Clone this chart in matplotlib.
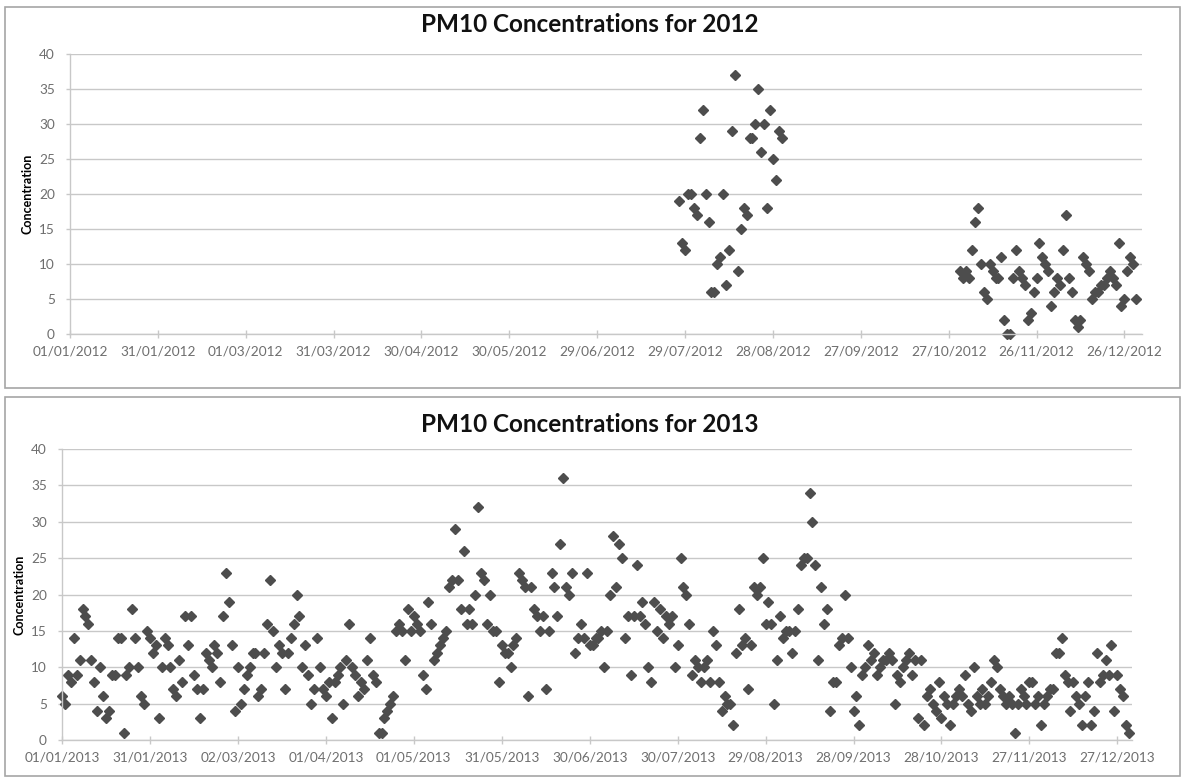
import matplotlib
matplotlib.use("Agg")
import matplotlib.pyplot as plt
import matplotlib.dates as mdates
from matplotlib.patches import Rectangle
import pandas as pd

# PM10 readings, one per day
pm10_2012_summer_start = "2012-07-27"
pm10_2012_summer = [
    19, 13, 12, 20, 20, 18, 17, 28, 32, 20,
    16, 6, 6, 10, 11, 20, 7, 12, 29, 37,
    9, 15, 18, 17, 28, 28, 30, 35, 26, 30,
    18, 32, 25, 22, 29, 28,
]

pm10_2012_autumn_start = "2012-10-31"
pm10_2012_autumn = [
    9, 8, 9, 8, 12, 16, 18, 10, 6, 5,
    10, 9, 8, 8, 11, 2, 0, 0, 8, 12,
    9, 8, 7, 2, 3, 6, 8, 13, 11, 10,
    9, 4, 6, 8, 7, 12, 17, 8, 6, 2,
    1, 2, 11, 10, 9, 5, 6, 6, 7, 7,
    8, 9, 8, 7, 13, 4, 5, 9, 11, 10,
    5,
]

pm10_2013_start = "2013-01-01"
pm10_2013 = [
    6, 5, 9, 8, 14, 9, 11, 18, 17, 16,
    11, 8, 4, 10, 6, 3, 4, 9, 9, 14,
    14, 1, 9, 10, 18, 14, 10, 6, 5, 15,
    14, 12, 13, 3, 10, 14, 13, 10, 7, 6,
    11, 8, 17, 13, 17, 9, 7, 3, 7, 12,
    11, 10, 13, 12, 8, 17, 23, 19, 13, 4,
    10, 5, 7, 9, 10, 12, 12, 6, 7, 12,
    16, 22, 15, 10, 13, 12, 7, 12, 14, 16,
    20, 17, 10, 13, 9, 5, 7, 14, 10, 7,
    6, 8, 3, 8, 9, 10, 5, 11, 16, 10,
    9, 6, 8, 7, 11, 14, 9, 8, 1, 1,
    3, 4, 5, 6, 15, 16, 15, 11, 18, 15,
    17, 16, 15, 9, 7, 19, 16, 11, 12, 13,
    14, 15, 21, 22, 29, 22, 18, 26, 16, 18,
    16, 20, 32, 23, 22, 16, 20, 15, 15, 8,
    13, 12, 12, 10, 13, 14, 23, 22, 21, 6,
    21, 18, 17, 15, 17, 7, 15, 23, 21, 17,
    27, 36, 21, 20, 23, 12, 14, 16, 14, 23,
    13, 13, 14, 14, 15, 10, 15, 20, 28, 21,
    27, 25, 14, 17, 9, 17, 24, 17, 19, 16,
    10, 8, 19, 15, 18, 14, 17, 16, 17, 10,
    13, 25, 21, 20, 16, 9, 11, 10, 8, 10,
    11, 8, 15, 13, 8, 4, 6, 5, 5, 2,
    12, 18, 13, 14, 7, 13, 21, 20, 21, 25,
    16, 19, 16, 5, 11, 17, 14, 15, 15, 12,
    15, 18, 24, 25, 25, 34, 30, 24, 11, 21,
    16, 18, 4, 8, 8, 13, 14, 20, 14, 10,
    4, 6, 2, 9, 10, 13, 11, 12, 9, 10,
    11, 11, 12, 11, 5, 9, 8, 10, 11, 12,
    9, 11, 3, 11, 2, 6, 7, 5, 4, 8,
    3, 6, 5, 2, 5, 6, 7, 6, 9, 5,
    4, 10, 6, 5, 7, 5, 6, 8, 11, 10,
    7, 6, 5, 6, 5, 1, 5, 7, 6, 5,
    8, 8, 5, 6, 2, 5, 6, 7, 7, 12,
    12, 14, 9, 8, 4, 8, 6, 5, 2, 6,
    8, 2, 4, 12, 8, 9, 11, 9, 13, 4,
    9, 7, 6, 2, 1,
]

y_ticks = [0, 5, 10, 15, 20, 25, 30, 35, 40]

FONT = ["Lato", "DejaVu Sans"]
MARKER_COLOR = "#4d4d4d"
GRID_COLOR = "#c8c8c8"
TICK_COLOR = "#6e6e6e"


def daily_series(start: str, values: list[int]) -> pd.Series:
    """Turns a run of daily values into a date-indexed series."""
    return pd.Series(values, index=pd.date_range(start, periods=len(values), freq="D"))


def style_axis(ax, year: int, title: str, title_y: float) -> None:
    """Excel-like look: light grid, grey ticks, 30-day date ticks."""
    start = pd.Timestamp(f"{year}-01-01")
    end = pd.Timestamp(f"{year + 1}-01-01")
    ax.set_xlim(start, end)
    ax.set_ylim(0, 40)
    ax.set_yticks(y_ticks)
    ax.set_xticks(pd.date_range(start, periods=13, freq="30D"))
    ax.xaxis.set_major_formatter(mdates.DateFormatter("%d/%m/%Y"))

    ax.grid(axis="y", color=GRID_COLOR, linewidth=1.0)
    ax.set_axisbelow(True)
    for side in ("top", "right"):
        ax.spines[side].set_visible(False)
    for side in ("left", "bottom"):
        ax.spines[side].set_color(GRID_COLOR)
        ax.spines[side].set_linewidth(1.0)

    ax.tick_params(axis="x", direction="inout", length=6, width=1,
                   color=GRID_COLOR, labelcolor=TICK_COLOR, labelsize=9.8, pad=5)
    ax.tick_params(axis="y", direction="out", length=3, width=1,
                   color=GRID_COLOR, labelcolor=TICK_COLOR, labelsize=9.8, pad=8)
    for lab in ax.get_xticklabels() + ax.get_yticklabels():
        lab.set_family(FONT)

    ax.set_ylabel("Concentration", family=FONT, fontsize=9,
                  fontweight="bold", labelpad=4)
    ax.figure.text(0.4975, title_y, title, family=FONT, fontsize=17.5,
                   fontweight="bold", ha="center", va="center", color="#111111")


def main() -> None:
    plt.rcParams["font.family"] = FONT
    fig = plt.figure(figsize=(11.86, 7.79), dpi=100)
    W, H = 1186, 779

    # chart-area borders of the two stacked Excel charts
    for x0, y0, x1, y1 in [(5, 7, 1180, 388), (5, 397, 1180, 776)]:
        fig.patches.append(Rectangle((x0 / W, 1 - y1 / H), (x1 - x0) / W, (y1 - y0) / H,
                                     transform=fig.transFigure, fill=False,
                                     edgecolor="#a6a6a6", linewidth=1.2))

    ax1 = fig.add_axes([70 / W, 1 - 334 / H, 1072 / W, 280 / H])
    ax2 = fig.add_axes([62 / W, 1 - 740 / H, 1070 / W, 291 / H])

    summer = daily_series(pm10_2012_summer_start, pm10_2012_summer)
    autumn = daily_series(pm10_2012_autumn_start, pm10_2012_autumn)
    y2013 = daily_series(pm10_2013_start, pm10_2013)

    for s in (summer, autumn):
        ax1.plot(s.index, s.values, linestyle="none", marker="D", ms=5.5,
                 color=MARKER_COLOR, mec=MARKER_COLOR, clip_on=False)
    ax2.plot(y2013.index, y2013.values, linestyle="none", marker="D", ms=5.5,
             color=MARKER_COLOR, mec=MARKER_COLOR, clip_on=False)

    style_axis(ax1, 2012, "PM10 Concentrations for 2012", 1 - 24 / H)
    style_axis(ax2, 2013, "PM10 Concentrations for 2013", 1 - 425 / H)

    fig.savefig("out.png", dpi=100, facecolor="white")


if __name__ == "__main__":
    main()
